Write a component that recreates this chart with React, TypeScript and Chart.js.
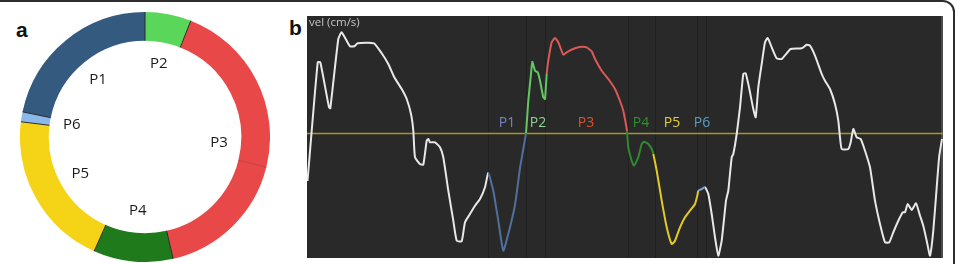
import React, { useEffect, useRef } from 'react';
import { Chart, registerables } from 'chart.js';
Chart.register(...registerables);

// ---- Panel a: ring ----
const ringLabels = ['P2', 'P3', 'P3', 'P4', 'P5', 'P6', 'P1'];
const ringValues = [21.5, 82.5, 63, 37, 73, 4.6, 78.4];
const ringColors = ['#5ad65a', '#e84848', '#e84848', '#1f7a1c', '#f5d316', '#8ab8e8', '#345a80'];
const ringDividerColors = ['#2a2a2a', '#2a2a2a', '#c63a3a', '#2a2a2a', '#2a2a2a', '#2a2a2a', '#2a2a2a'];

// ---- Panel b: velocity trace ----
const timeX = [
  0.5, 10.7, 13.3, 22, 23.3, 31.3, 34.7, 43, 47.3, 50.7, 67, 74.7, 81.3, 87.3, 94.7, 99.7, 104, 106.3, 108,
  113, 116.3, 119.7, 121.3, 123, 128, 133, 136.3, 141.3, 146.3, 149.7, 154.7, 158, 163, 168, 173, 178,
  181.3, 186.3, 191.3, 196.3, 201.3, 208, 213, 216.5,
  219, 221.3, 224, 225.3, 228, 230.7, 233, 236.3, 238,
  239.7, 241.3, 244.7, 248, 251.3, 256.3, 259.7, 268, 274.7, 279.7, 284.7, 288, 294.7, 301.3, 308, 313, 316.3, 318.5,
  320, 321.3, 324.7, 327, 331.3, 334.7, 337, 341.3, 344.7,
  346.3, 349.7, 354.7, 359.7, 364.7, 368, 373, 378, 383, 388, 390.3,
  391.3, 394.7,
  398, 401.3, 404.7, 408, 411.3, 414.7, 419, 421.3, 422, 424.7, 426.3, 429.7, 433, 436.3, 438.7, 442, 446.3, 448.7,
  451.3, 454.7, 458, 460.7, 464.7, 469.7, 474.7, 479.7, 483.7, 494.7, 499.7, 503, 508, 514.7, 518, 523, 528, 531.3,
  533, 534.7, 541.3, 543.7, 546.3, 549.7, 553.7, 558, 563, 568, 573, 578, 582.3, 586.3, 591.3, 595.7, 598, 600.7,
  604.7, 609, 613, 616.3, 619.7, 623, 626.3, 629.7, 632.3, 635,
];
const velY = [
  -48, 70.7, 70.7, 25.7, 24.7, 94, 100.7, 86.7, 86.7, 89.7, 89.7, 79.7, 69, 55.7, 44, 34, 19, 2.3, -24.3,
  -31, -31.7, -7.7, -6, -9.3, -9.3, -14.3, -24.3, -57.7, -87.7, -107.7, -108.3, -89.3, -81, -72.7, -66, -54.3,
  -40, -57.7, -87.7, -117.7, -101, -72, -35, -15,
  0, 32.3, 59, 71.3, 62.3, 60.7, 52.3, 35.7, 34,
  59, 72.3, 90.7, 95, 90.7, 78.3, 80.7, 84.7, 86.3, 85.7, 81.7, 74, 62.3, 54, 44, 32, 22.3, 11,
  2, -14.3, -27.7, -32.7, -24.3, -11, -8.7, -11, -16,
  -21, -37.7, -67.7, -94.3, -111, -107.7, -94.3, -84.3, -77.7, -71, -62.7,
  -57.7, -56,
  -54.3, -61, -81, -104.3, -122.7, -107.7, -67.7, -57.7, -51, -24.3, -21, -1, 25.7, 59, 59.7, 45.7, 24, 15.7,
  45.7, 69, 90.7, 95, 85.7, 74.7, 74, 79.7, 84, 84.7, 88.3, 87.3, 77.3, 59, 52.3, 44, 29, 12.3,
  -4.3, -16, -16, -9.3, 4, -4.3, -6, -17.7, -34.3, -67.7, -91, -109.3, -109.3, -99.3, -87.7, -79.3, -79.3, -71,
  -77, -70.3, -82.7, -92.7, -107.7, -122.7, -97.7, -54.3, -22.7, -6,
];
const phaseNames = ['P1', 'P2', 'P3', 'P4', 'P5', 'P6'];
const phaseStart = [181.3, 219, 239.7, 320, 346.3, 391.3];
const phaseEnd = 398;
const phaseLineColors = ['#50709c', '#62c862', '#de5858', '#2f8a2f', '#e3c928', '#7aaad4'];
const phaseTextColors = ['#7c82c0', '#8fd48f', '#e0512a', '#2a952a', '#e3cf3a', '#5b9cc6'];
const phaseLabelX = [200, 231, 279, 334, 365, 395];
const phaseLabelY = 10;
const markerX = [181, 219, 238, 321, 348, 390, 399];
const yAxisTitle = 'vel (cm/s)';

const traceColor = '#e8e8e8';

function colorFor(x: number): string {
  for (let i = 0; i < phaseStart.length; i++) {
    const end = i < phaseStart.length - 1 ? phaseStart[i + 1] : phaseEnd;
    if (x >= phaseStart[i] - 0.01 && x < end - 0.01) return phaseLineColors[i];
  }
  return traceColor;
}

function RingChart() {
  const ref = useRef<HTMLCanvasElement>(null);
  useEffect(() => {
    const ringPlugin = {
      id: 'ringDecor',
      afterDatasetsDraw(chart: any) {
        const ctx = chart.ctx;
        const arcs = chart.getDatasetMeta(0).data;
        if (!arcs.length) return;
        const a0 = arcs[0];
        const cx = a0.x, cy = a0.y;
        const rIn = a0.innerRadius, rOut = a0.outerRadius;
        ctx.save();
        arcs.forEach((arc: any, i: number) => {
          const ang = arc.startAngle;
          ctx.beginPath();
          ctx.moveTo(cx + Math.cos(ang) * rIn, cy + Math.sin(ang) * rIn);
          ctx.lineTo(cx + Math.cos(ang) * rOut, cy + Math.sin(ang) * rOut);
          ctx.strokeStyle = ringDividerColors[i];
          ctx.lineWidth = 1;
          ctx.stroke();
        });
        ctx.font = '15px "Open Sans"';
        ctx.fillStyle = '#1a1a1a';
        ctx.textAlign = 'center';
        ctx.textBaseline = 'middle';
        let i = 0;
        while (i < arcs.length) {
          let j = i;
          while (j + 1 < arcs.length && ringLabels[j + 1] === ringLabels[i]) j++;
          const mid = (arcs[i].startAngle + arcs[j].endAngle) / 2;
          const r = rIn - 22;
          ctx.fillText(ringLabels[i], cx + Math.cos(mid) * r, cy + Math.sin(mid) * r);
          i = j + 1;
        }
        ctx.restore();
      },
    };
    const chart = new Chart(ref.current!, {
      type: 'doughnut',
      data: {
        labels: ringLabels,
        datasets: [{ data: ringValues, backgroundColor: ringColors, borderWidth: 0 }],
      },
      options: {
        responsive: false,
        animation: false,
        cutout: '77%',
        layout: { padding: 0 },
        plugins: { legend: { display: false }, tooltip: { enabled: false } },
      },
      plugins: [ringPlugin],
    });
    return () => chart.destroy();
  }, []);
  return <canvas ref={ref} width={250} height={250} style={{ position: 'absolute', left: 20, top: 12 }} />;
}

function TraceChart() {
  const ref = useRef<HTMLCanvasElement>(null);
  useEffect(() => {
    const decor = {
      id: 'traceDecor',
      beforeDatasetsDraw(chart: any) {
        const { ctx, chartArea, scales } = chart;
        ctx.save();
        ctx.fillStyle = '#292929';
        ctx.fillRect(chartArea.left, chartArea.top, chartArea.right - chartArea.left, chartArea.bottom - chartArea.top);
        ctx.fillStyle = '#4a4a4a';
        ctx.fillRect(chartArea.right - 2, chartArea.top, 2, chartArea.bottom - chartArea.top);
        markerX.forEach((mx) => {
          const px = Math.round(scales.x.getPixelForValue(mx)) + 0.5;
          ctx.beginPath();
          ctx.moveTo(px, chartArea.top);
          ctx.lineTo(px, chartArea.bottom);
          ctx.strokeStyle = '#202020';
          ctx.lineWidth = 1;
          ctx.stroke();
        });
        const zy = Math.round(scales.y.getPixelForValue(0)) + 0.5;
        ctx.beginPath();
        ctx.moveTo(chartArea.left, zy);
        ctx.lineTo(chartArea.right, zy);
        ctx.strokeStyle = '#a3962c';
        ctx.lineWidth = 1.3;
        ctx.stroke();
        ctx.restore();
      },
      afterDatasetsDraw(chart: any) {
        const { ctx, chartArea, scales } = chart;
        ctx.save();
        ctx.font = '14px "Open Sans"';
        ctx.textAlign = 'center';
        ctx.textBaseline = 'middle';
        phaseNames.forEach((n, i) => {
          ctx.fillStyle = phaseTextColors[i];
          ctx.fillText(n, scales.x.getPixelForValue(phaseLabelX[i]), scales.y.getPixelForValue(phaseLabelY));
        });
        ctx.font = '11.5px "Open Sans"';
        ctx.fillStyle = '#c4c4c4';
        ctx.textAlign = 'left';
        ctx.textBaseline = 'top';
        ctx.fillText(yAxisTitle, chartArea.left + 2, chartArea.top + 1);
        ctx.restore();
      },
    };
    const chart = new Chart(ref.current!, {
      type: 'line',
      data: {
        datasets: [
          {
            data: timeX.map((x, i) => ({ x, y: velY[i] })),
            borderColor: traceColor,
            borderWidth: 2,
            pointRadius: 0,
            tension: 0.15,
            segment: { borderColor: (c: any) => colorFor(c.p0.parsed.x) },
          },
        ],
      },
      options: {
        responsive: false,
        animation: false,
        layout: { padding: 0 },
        scales: {
          x: { type: 'linear', min: 0, max: 636, display: false },
          y: { min: -125, max: 117, display: false },
        },
        plugins: { legend: { display: false }, tooltip: { enabled: false } },
      },
      plugins: [decor],
    });
    return () => chart.destroy();
  }, []);
  return <canvas ref={ref} width={636} height={242} style={{ position: 'absolute', left: 307, top: 16 }} />;
}

export default function App() {
  const letter: React.CSSProperties = {
    position: 'absolute',
    fontFamily: '"Liberation Sans", Arial, sans-serif',
    fontWeight: 'bold',
    fontSize: 21,
    lineHeight: 1,
    color: '#111',
  };
  return (
    <div style={{ position: 'fixed', left: 0, top: 0, width: 959, height: 264, background: '#fff', overflow: 'hidden' }}>
      <div
        style={{
          position: 'absolute',
          left: -20,
          top: 0,
          width: 975,
          height: 300,
          boxSizing: 'border-box',
          border: '2px solid #2e2e2e',
          borderRadius: 12,
        }}
      />
      <div style={{ ...letter, left: 16, top: 19 }}>a</div>
      <div style={{ ...letter, left: 289, top: 17 }}>b</div>
      <RingChart />
      <TraceChart />
    </div>
  );
}
